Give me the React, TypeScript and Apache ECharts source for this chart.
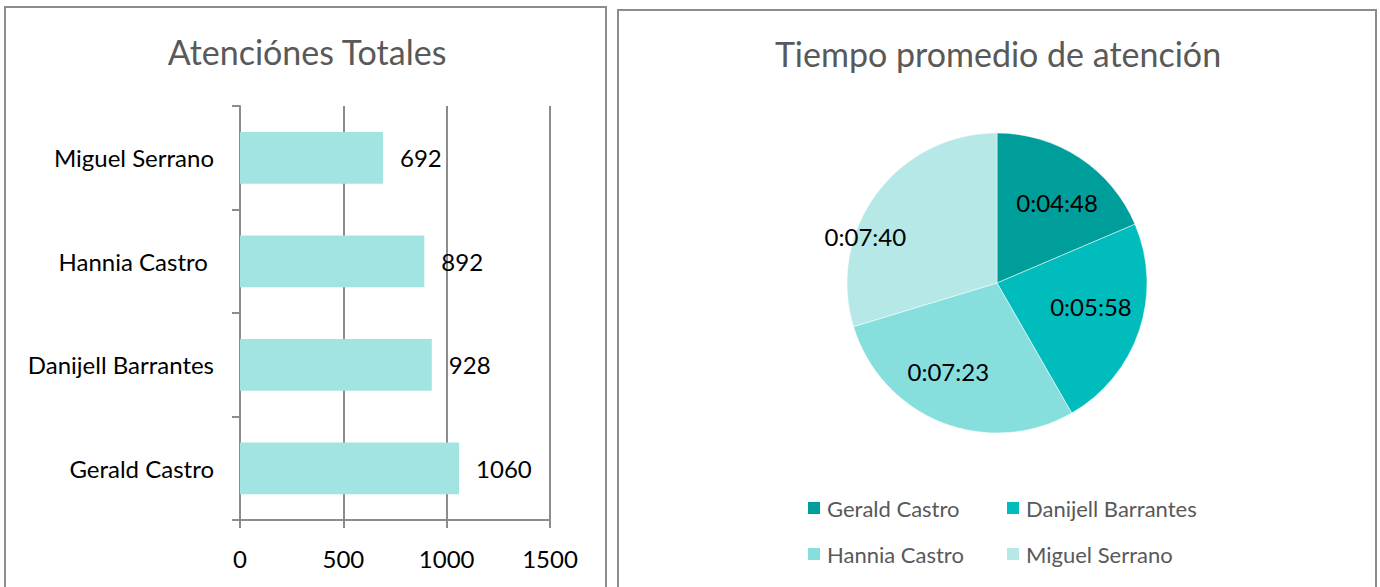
import React, { useEffect, useRef } from "react";
import * as echarts from "echarts";

const barCategories = ["Gerald Castro", "Danijell Barrantes", "Hannia Castro ", "Miguel Serrano"];
const barValues = [1060, 928, 892, 692];
const xTicks = { min: 0, max: 1500, interval: 500 };

const pieNames = ["Gerald Castro", "Danijell Barrantes", "Hannia Castro", "Miguel Serrano"];
const pieLabels = ["0:04:48", "0:05:58", "0:07:23", "0:07:40"];
const pieSeconds = [288, 358, 443, 460];
const pieColors = ["#009e9a", "#00bcbc", "#87dfdd", "#b5e8e6"];
const pieLabelOffsets = [[17, -15], [20, -1], [-20, 16], [-69, 0]];

const FONT = "Lato, 'Open Sans', sans-serif";
const FS = 24;

export default function App() {
  const ref = useRef<HTMLDivElement>(null);
  useEffect(() => {
    if (!ref.current) return;
    const chart = echarts.init(ref.current, undefined, { renderer: "svg" });
    const border = "#8c8c8c";
    const legendText = { fontFamily: FONT, fontSize: 22, color: "#595959", padding: [0, 0, 0, 1] };
    chart.setOption({
      animation: false,
      textStyle: { fontFamily: FONT },
      graphic: [
        { type: "rect", shape: { x: 5, y: 7, width: 601, height: 600 }, style: { fill: "none", stroke: border, lineWidth: 2 }, z: -1 },
        { type: "rect", shape: { x: 618, y: 10, width: 758, height: 600 }, style: { fill: "none", stroke: border, lineWidth: 2 }, z: -1 },
      ],
      title: [
        { text: "Atenciónes Totales", left: 302, top: 29, textAlign: "center", textStyle: { fontFamily: FONT, fontSize: 34, fontWeight: "normal", color: "#595959" } },
        { text: "Tiempo promedio de atención", left: 993, top: 31, textAlign: "center", textStyle: { fontFamily: FONT, fontSize: 34, fontWeight: "normal", color: "#595959" } },
      ],
      legend: [
        {
          data: [pieNames[0], pieNames[2]], orient: "vertical", left: 806, top: 497, padding: 0, itemWidth: 14, itemHeight: 14, itemGap: 24,
          icon: "rect", textStyle: legendText,
        },
        {
          data: [pieNames[1], pieNames[3]], orient: "vertical", left: 1005, top: 497, padding: 0, itemWidth: 14, itemHeight: 14, itemGap: 24,
          icon: "rect", textStyle: legendText,
        },
      ],
      grid: { left: 240, top: 106, width: 310, height: 414, containLabel: false },
      xAxis: {
        type: "value", min: xTicks.min, max: xTicks.max, interval: xTicks.interval,
        axisLine: { show: true, lineStyle: { color: border, width: 2 } },
        axisTick: { show: true, length: 8, lineStyle: { color: border, width: 2 } },
        splitLine: { show: true, lineStyle: { color: border, width: 2 } },
        axisLabel: { color: "#000", fontSize: FS, fontFamily: FONT, margin: 26, formatter: (v: number) => String(v) },
      },
      yAxis: {
        type: "category", data: barCategories,
        axisLine: { show: true, lineStyle: { color: border, width: 2 } },
        axisTick: { show: true, length: 8, lineStyle: { color: border, width: 2 } },
        axisLabel: { color: "#000", fontSize: FS, fontFamily: FONT, margin: 26 },
      },
      series: [
        {
          type: "bar", data: barValues, barWidth: "50%",
          itemStyle: { color: "#a2e4e2" },
          label: { show: true, position: "right", distance: 17, color: "#000", fontSize: FS, fontFamily: FONT },
        },
        {
          type: "pie", center: [997, 283], radius: 150, startAngle: 90, clockwise: true,
          itemStyle: { borderColor: "#fff", borderWidth: 0.5 },
          data: pieNames.map((n, i) => ({
            name: n, value: pieSeconds[i],
            itemStyle: { color: pieColors[i] },
            label: { offset: pieLabelOffsets[i] },
          })),
          label: {
            show: true, position: "inside", color: "#000", fontSize: FS, fontFamily: FONT,
            formatter: (p: any) => pieLabels[p.dataIndex],
          },
          labelLine: { show: false },
        },
      ],
    });
    return () => chart.dispose();
  }, []);
  return <div ref={ref} style={{ position: "absolute", left: 0, top: 0, width: 1380, height: 587 }} />;
}
